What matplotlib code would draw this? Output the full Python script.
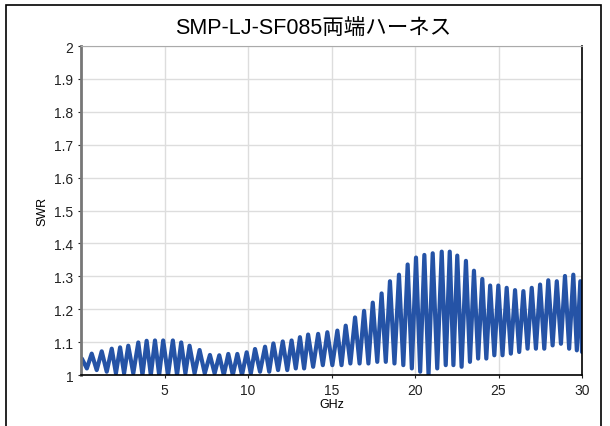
import numpy as np
import matplotlib
matplotlib.use("Agg")
import matplotlib.pyplot as plt
from matplotlib.patches import Rectangle

plt.rcParams['font.family'] = ['Liberation Sans', 'Noto Sans CJK JP', 'DejaVu Sans']

# ripple peaks (GHz, SWR)
peak_ghz = [0.05, 0.64, 1.24, 1.84, 2.34, 2.83, 3.43, 3.93, 4.43, 4.92, 5.5, 6.0, 6.5, 7.1,
            7.72, 8.28, 8.82, 9.36, 9.92, 10.42, 11.02, 11.52, 12.08, 12.61, 13.11, 13.6, 14.2,
            14.75, 15.35, 15.85, 16.41, 16.95, 17.47, 18.0, 18.5, 19.04, 19.56, 20.06, 20.56,
            21.06, 21.6, 22.08, 22.53, 23.05, 23.53, 24.03, 24.5, 24.99, 25.49, 25.99, 26.49,
            26.99, 27.49, 27.98, 28.49, 28.98, 29.48, 29.9]
peak_swr = [1.05, 1.065, 1.072, 1.08, 1.084, 1.089, 1.099, 1.104, 1.105, 1.105, 1.105, 1.099,
            1.089, 1.076, 1.061, 1.06, 1.064, 1.064, 1.069, 1.079, 1.086, 1.096, 1.102, 1.105,
            1.115, 1.123, 1.125, 1.13, 1.135, 1.15, 1.175, 1.195, 1.22, 1.248, 1.285, 1.305,
            1.336, 1.357, 1.365, 1.37, 1.375, 1.375, 1.363, 1.347, 1.317, 1.292, 1.272, 1.272,
            1.265, 1.258, 1.255, 1.265, 1.275, 1.288, 1.285, 1.301, 1.305, 1.285]

# ripple dips
dip_ghz = [0.35, 0.94, 1.54, 2.09, 2.58, 3.13, 3.68, 4.18, 4.68, 5.21, 5.75, 6.25, 6.8,
           7.41, 8.0, 8.55, 9.09, 9.64, 10.17, 10.72, 11.27, 11.8, 12.35, 12.86, 13.36, 13.9,
           14.48, 15.05, 15.6, 16.13, 16.68, 17.21, 17.74, 18.25, 18.77, 19.3, 19.81, 20.31,
           20.81, 21.33, 21.84, 22.3, 22.79, 23.29, 23.78, 24.27, 24.75, 25.24, 25.74, 26.24,
           26.74, 27.24, 27.74, 28.24, 28.74, 29.23, 29.69, 30.0]
dip_swr = [1.02, 1.015, 1.01, 1.005,
           1.005, 1.005, 1.0, 1.0, 1.0, 1.0, 1.0, 1.005, 1.005,
           1.005, 1.005, 1.0, 1.0, 1.0,
           1.005, 1.01, 1.01, 1.015, 1.015, 1.02, 1.02, 1.025,
           1.03, 1.03, 1.03, 1.035, 1.035, 1.035, 1.04, 1.04, 1.035,
           1.03, 1.02, 1.01, 1.0, 1.02,
           1.03, 1.03, 1.025, 1.04, 1.05, 1.05,
           1.06, 1.06, 1.065, 1.07, 1.08, 1.08, 1.08, 1.09, 1.095, 1.08, 1.075, 1.07]

x_ticks = [5, 10, 15, 20, 25, 30]
y_ticks = [1, 1.1, 1.2, 1.3, 1.4, 1.5, 1.6, 1.7, 1.8, 1.9, 2]
y_tick_labels = ["1", "1.1", "1.2", "1.3", "1.4", "1.5", "1.6", "1.7", "1.8", "1.9", "2"]

ghz = np.array(peak_ghz + dip_ghz)
swr = np.array(peak_swr + dip_swr)
order = np.argsort(ghz)
ghz, swr = ghz[order], swr[order]

fig = plt.figure(figsize=(6.1, 4.27), dpi=100)
ax = fig.add_axes([0.1328, 0.1194, 0.8213, 0.7705])

# outer frame (bottom edge runs off the image)
fig.patches.append(Rectangle((6 / 610, -0.05), 595 / 610, 1 - 6 / 427 + 0.05,
                             transform=fig.transFigure, fill=False,
                             edgecolor="black", linewidth=1.2))

ax.plot(ghz, swr, color="#2553a6", linewidth=3.0, solid_joinstyle="round",
        solid_capstyle="round")

ax.set_xlim(0, 30)
ax.set_ylim(1, 2)
ax.set_xticks(x_ticks)
ax.set_yticks(y_ticks)
ax.set_yticklabels(y_tick_labels)
ax.grid(True, color="#dddddd", linewidth=1)
ax.set_axisbelow(True)
ax.tick_params(labelsize=10, length=2, width=0.8, colors="#222222")

ax.spines["left"].set_color("#777777")
ax.spines["left"].set_linewidth(2)
ax.spines["top"].set_color("#aaaaaa")
ax.spines["bottom"].set_color("black")
ax.spines["bottom"].set_linewidth(1.2)
ax.spines["right"].set_color("black")
ax.spines["right"].set_linewidth(1.2)

ax.set_xlabel("GHz", fontsize=9, labelpad=1)
ax.set_ylabel("SWR", fontsize=9)
fig.text(0.513, 0.934, "SMP-LJ-SF085両端ハーネス", ha="center", va="center", fontsize=15.5)

fig.savefig("out.png", dpi=100)
